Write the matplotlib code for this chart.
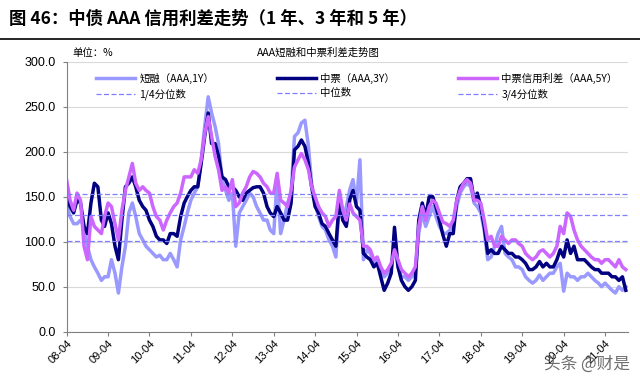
"""
AAA short-term / medium-term note credit spread chart (1Y, 3Y, 5Y)
monthly values read off the reference picture, unit: bp
"""

import numpy as np
import pandas as pd
import matplotlib.pyplot as plt
import matplotlib.dates as mdates

plt.rcParams['font.family'] = ['Noto Sans CJK SC', 'DejaVu Sans']

# months from 2008-04 to 2021-10
dates = pd.date_range('2008-04-01', periods=163, freq='MS')

spread_1y = [
    140, 128, 120, 120, 124, 117, 95, 80, 72, 65, 57, 61,
    61, 80, 65, 43, 72, 95, 132, 143, 128, 109, 102, 95,
    91, 87, 83, 85, 80, 80, 87, 80, 72, 102, 117, 132,
    146, 154, 161, 191, 228, 261, 243, 228, 209, 169, 157, 146,
    154, 95, 132, 139, 146, 154, 150, 139, 132, 124, 124, 113,
    109, 170, 109, 124, 143, 154, 217, 221, 232, 235, 206, 165,
    143, 128, 117, 113, 102, 95, 83, 146, 124, 139, 158, 169,
    143, 191, 80, 91, 87, 76, 80, 69, 61, 65, 69, 95,
    72, 61, 61, 57, 61, 69, 109, 132, 117, 128, 139, 128,
    117, 110, 109, 113, 117, 139, 154, 161, 165, 161, 143, 139,
    132, 113, 80, 83, 95, 109, 117, 87, 83, 80, 72, 72,
    69, 61, 57, 54, 57, 63, 57, 61, 65, 65, 72, 76,
    45, 65, 61, 61, 57, 61, 61, 65, 61, 57, 54, 50,
    54, 50, 46, 43, 50, 46, 50,
]

spread_3y = [
    150, 139, 132, 146, 143, 117, 109, 143, 165, 161, 124, 117,
    132, 120, 95, 80, 124, 161, 165, 172, 161, 146, 139, 135,
    124, 117, 106, 102, 102, 98, 109, 109, 106, 128, 143, 150,
    157, 161, 161, 187, 217, 243, 209, 209, 195, 172, 169, 161,
    161, 157, 150, 146, 154, 157, 160, 161, 161, 154, 139, 132,
    128, 139, 132, 124, 124, 143, 202, 206, 213, 206, 187, 161,
    139, 132, 120, 117, 109, 102, 95, 146, 124, 117, 147, 157,
    139, 135, 87, 83, 80, 72, 76, 61, 46, 54, 65, 116,
    72, 57, 50, 46, 50, 57, 124, 143, 128, 150, 150, 139,
    124, 108, 95, 109, 109, 146, 161, 165, 170, 170, 146, 154,
    139, 117, 87, 91, 87, 87, 95, 91, 87, 87, 83, 83,
    80, 76, 69, 69, 72, 78, 72, 76, 72, 72, 80, 91,
    83, 102, 87, 95, 80, 80, 80, 76, 72, 69, 69, 65,
    65, 65, 61, 61, 57, 61, 46,
]

spread_5y = [
    168, 146, 135, 154, 146, 95, 80, 128, 117, 113, 109, 128,
    143, 139, 120, 102, 135, 157, 172, 187, 165, 157, 161, 157,
    154, 139, 128, 124, 113, 124, 132, 139, 143, 154, 172, 172,
    172, 180, 176, 191, 220, 239, 217, 195, 180, 157, 161, 154,
    169, 139, 143, 154, 161, 172, 178, 176, 172, 165, 161, 154,
    154, 176, 146, 143, 139, 157, 183, 191, 198, 191, 180, 161,
    150, 139, 132, 128, 117, 124, 128, 157, 135, 124, 142, 132,
    128, 124, 95, 95, 91, 80, 83, 72, 65, 69, 76, 91,
    80, 69, 65, 61, 65, 72, 117, 139, 124, 139, 146, 143,
    132, 122, 120, 117, 124, 146, 157, 165, 169, 165, 146, 146,
    143, 124, 102, 106, 95, 95, 106, 102, 98, 102, 102, 98,
    95, 87, 83, 80, 83, 89, 91, 87, 83, 87, 95, 117,
    109, 132, 128, 113, 102, 95, 91, 87, 83, 80, 80, 76,
    80, 80, 76, 72, 80, 72, 69,
]

quantiles = [101, 129.5, 153]
quantile_labels = ['1/4分位数', '中位数', '3/4分位数']
series_labels = ['短融（AAA,1Y）', '中票（AAA,3Y）', '中票信用利差（AAA,5Y）']
series_colors = ['#9999FF', '#000080', '#CC66FF']

fig = plt.figure(figsize=(6.4, 3.79), dpi=100)

# header
fig.text(0.014, 0.951, '图 46：中债 AAA 信用利差走势（1 年、3 年和 5 年）',
         fontsize=12.5, fontweight='bold', va='center', ha='left')
fig.add_artist(plt.Line2D([0, 1], [0.898, 0.898], color='black', lw=1.2))
fig.text(0.113, 0.86, '单位：%', fontsize=7.5, va='center', ha='left')
fig.text(0.497, 0.86, 'AAA短融和中票利差走势图', fontsize=7.5, va='center', ha='center')

ax = fig.add_axes([0.1042, 0.1248, 0.877, 0.7124])

lines = []
for values, color in zip([spread_1y, spread_3y, spread_5y], series_colors):
    ln, = ax.plot(dates, values, color=color, lw=2.5)
    lines.append(ln)

qlines = []
for q in quantiles:
    ql = ax.axhline(q, color='#7F7FFF', lw=0.9, ls=(0, (4, 2)))
    qlines.append(ql)

ax.set_ylim(0, 300)
ax.set_yticks(np.arange(0, 301, 50))
ax.yaxis.set_major_formatter(plt.FuncFormatter(lambda v, p: f'{v:.1f}'))
ax.set_xlim(dates[0], pd.Timestamp('2021-10-20'))
ax.xaxis.set_major_locator(mdates.MonthLocator(bymonth=4))
ax.xaxis.set_major_formatter(mdates.DateFormatter('%y-%m'))

ax.grid(axis='y', color='#D9D9D9', lw=0.8)
ax.set_axisbelow(True)
for side in ['top', 'right']:
    ax.spines[side].set_visible(False)
for side in ['left', 'bottom']:
    ax.spines[side].set_color('#808080')

ax.tick_params(axis='y', labelsize=9, length=3, color='#808080', pad=5)
ax.tick_params(axis='x', labelsize=8, length=3, color='#808080', pad=2)
for lab in ax.get_yticklabels() + ax.get_xticklabels():
    lab.set_fontfamily(['Liberation Sans', 'DejaVu Sans'])
for lab in ax.get_xticklabels():
    lab.set_rotation(45)
    lab.set_ha('right')
    lab.set_rotation_mode('anchor')

handles = [lines[0], qlines[0], lines[1], qlines[1], lines[2], qlines[2]]
labels = [series_labels[0], quantile_labels[0], series_labels[1],
          quantile_labels[1], series_labels[2], quantile_labels[2]]
ax.legend(handles, labels, ncol=3, loc='upper left', bbox_to_anchor=(0.035, 0.995),
          frameon=False, fontsize=7.5, handlelength=3.8, columnspacing=6.0,
          handletextpad=0.4, labelspacing=0.45)

# watermark
fig.text(0.985, 0.04, '头条 @财是', fontsize=12, color='#555555',
         ha='right', va='center', alpha=0.85)

fig.savefig('out.png', dpi=100)
